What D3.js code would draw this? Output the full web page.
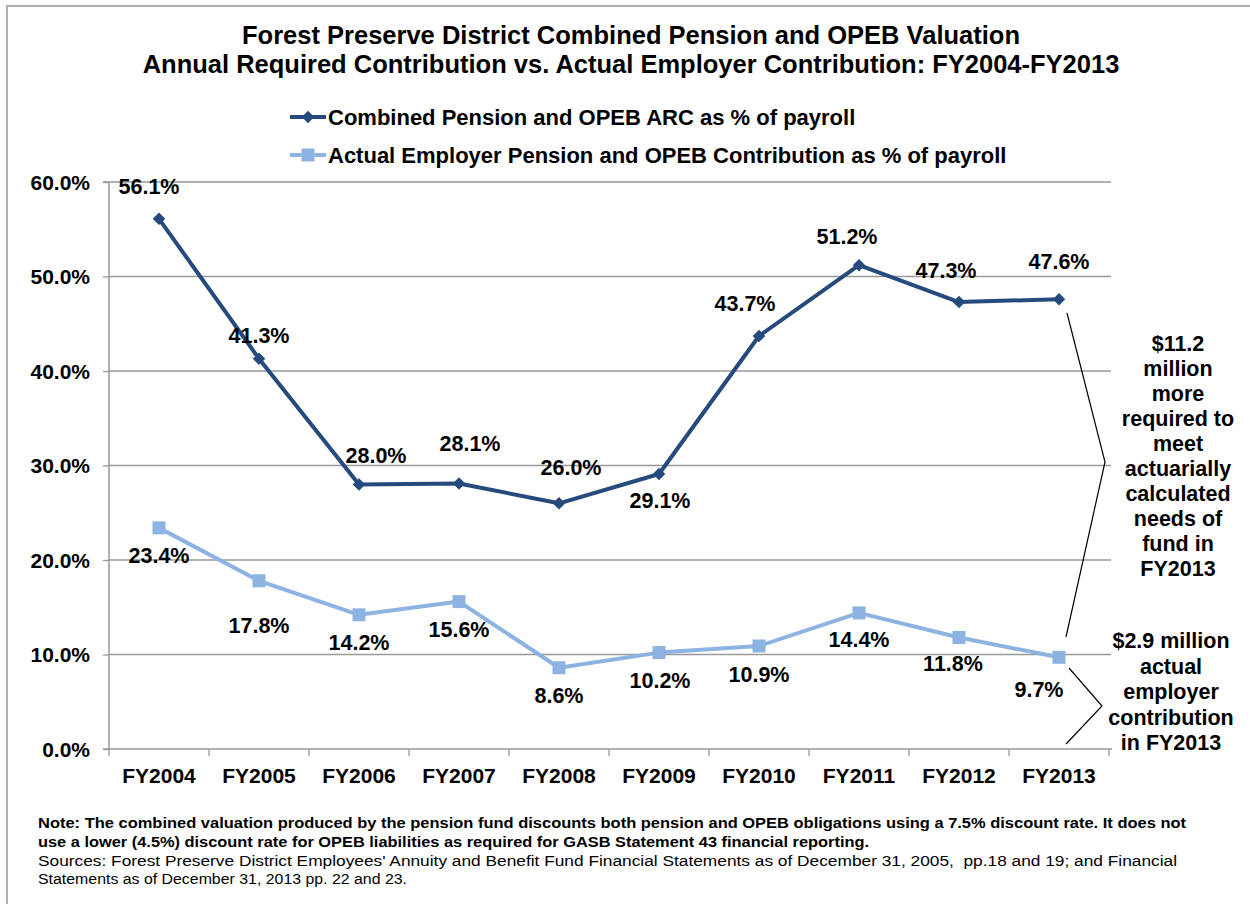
<!doctype html>
<html lang="en">
<head>
<meta charset="utf-8">
<title>Forest Preserve District Pension and OPEB</title>
<style>
  body { margin: 0; background: #fff; }
  svg text { font-family: "Liberation Sans", Arial, sans-serif; }
</style>
</head>
<body>
<script src="https://cdn.jsdelivr.net/npm/d3@7"></script>
<script>
// data
var years = ["FY2004","FY2005","FY2006","FY2007","FY2008","FY2009","FY2010","FY2011","FY2012","FY2013"];
var arcPct = [56.1, 41.3, 28.0, 28.1, 26.0, 29.1, 43.7, 51.2, 47.3, 47.6];
var actualPct = [23.4, 17.8, 14.2, 15.6, 8.6, 10.2, 10.9, 14.4, 11.8, 9.7];
var yTicks = [0, 10, 20, 30, 40, 50, 60];
var seriesNames = ["Combined Pension and OPEB ARC as % of payroll",
                   "Actual Employer Pension and OPEB Contribution as % of payroll"];

// label nudges (label placement only, px)
var arcLabelDx = [-10, 0, 17, 11, 12, 1, -14, -12, -13, 0];
var arcLabelDy = [-25, -16, -21, -32, -28, 34, -25, -21, -24, -30];
var actLabelDx = [0, 0, 0, 0, 0, 1, 0, 0, -6, -20];
var actLabelDy = [35, 52, 35, 35, 35, 35, 36, 34, 34, 40];

var darkBlue = "#254a7e", lightBlue = "#8db3e3";

var W = 1250, H = 904;
var margin = {top: 182, left: 109, right: 141, bottom: 155};
var width = W - margin.left - margin.right,
    height = H - margin.top - margin.bottom;

var svg = d3.select("body").append("svg")
  .attr("width", W).attr("height", H);

// outer frame (only top and left visible)
svg.append("path")
  .attr("d", "M7,904V6H1250")
  .attr("fill", "none").attr("stroke", "#b0b0b0").attr("stroke-width", 2);

var x = d3.scaleBand().domain(years).range([0, width]);
var y = d3.scaleLinear().domain([0, 60]).range([height, 0]);

var g = svg.append("g").attr("transform", "translate(" + margin.left + "," + margin.top + ")");

// gridlines
g.append("g").selectAll("line").data(yTicks.filter(function(d){ return d > 0; })).enter()
  .append("line")
  .attr("x1", 0).attr("x2", width + 2)
  .attr("y1", function(d){ return y(d); }).attr("y2", function(d){ return y(d); })
  .attr("stroke", "#999").attr("stroke-width", 1.3);

// y axis
var yAxis = g.append("g")
  .call(d3.axisLeft(y).tickValues(yTicks).tickSize(6).tickPadding(13)
    .tickFormat(function(d){ return d.toFixed(1) + "%"; }));
yAxis.select(".domain").attr("stroke", "#999").attr("stroke-width", 1.5).attr("d", "M-6," + height + "H0V0H-6");
yAxis.selectAll(".tick line").attr("stroke", "#999").attr("stroke-width", 1.3);
yAxis.selectAll("text").attr("font-size", 21).attr("font-weight", "bold").attr("fill", "#000")
  .attr("font-family", "Liberation Sans, Arial, sans-serif").attr("dy", "0.35em");

// x axis
var xAxis = g.append("g").attr("transform", "translate(0," + height + ")")
  .call(d3.axisBottom(x).tickSize(0).tickPadding(19));
xAxis.select(".domain").attr("stroke", "#999").attr("stroke-width", 1.5).attr("d", "M0,0H" + (width + 3));
xAxis.selectAll("text").attr("font-size", 21).attr("font-weight", "bold").attr("fill", "#000")
  .attr("font-family", "Liberation Sans, Arial, sans-serif");
g.append("g").selectAll("line").data(years).enter().append("line")
  .attr("x1", function(d){ return x(d); }).attr("x2", function(d){ return x(d); })
  .attr("y1", height).attr("y2", height + 7)
  .attr("stroke", "#999").attr("stroke-width", 1.3);
g.append("line").attr("x1", width).attr("x2", width).attr("y1", height).attr("y2", height + 7)
  .attr("stroke", "#999").attr("stroke-width", 1.3);

function cx(d, i){ return x(years[i]) + x.bandwidth() / 2; }

var line = d3.line().x(cx).y(function(d){ return y(d); });

// series lines
g.append("path").datum(actualPct).attr("d", line)
  .attr("fill", "none").attr("stroke", lightBlue).attr("stroke-width", 4).attr("stroke-linejoin", "round");
g.append("path").datum(arcPct).attr("d", line)
  .attr("fill", "none").attr("stroke", darkBlue).attr("stroke-width", 4).attr("stroke-linejoin", "round");

// markers
g.selectAll(".sq").data(actualPct).enter().append("rect")
  .attr("x", function(d, i){ return cx(d, i) - 6.5; })
  .attr("y", function(d){ return y(d) - 6.5; })
  .attr("width", 13).attr("height", 13).attr("fill", lightBlue);
g.selectAll(".dia").data(arcPct).enter().append("path")
  .attr("d", d3.symbol().type(d3.symbolDiamond2).size(100))
  .attr("transform", function(d, i){ return "translate(" + cx(d, i) + "," + y(d) + ")"; })
  .attr("fill", darkBlue);

// data labels
function labels(data, dxs, dys){
  g.append("g").selectAll("text").data(data).enter().append("text")
    .attr("x", function(d, i){ return cx(d, i) + dxs[i]; })
    .attr("y", function(d, i){ return y(d) + dys[i]; })
    .attr("text-anchor", "middle").attr("font-size", 21.5).attr("font-weight", "bold")
    .text(function(d){ return d.toFixed(1) + "%"; });
}
labels(arcPct, arcLabelDx, arcLabelDy);
labels(actualPct, actLabelDx, actLabelDy);

// title
var title = svg.append("text").attr("x", 631).attr("text-anchor", "middle")
  .attr("font-size", 25.5).attr("font-weight", "bold");
title.append("tspan").attr("x", 631).attr("y", 44).text("Forest Preserve District Combined Pension and OPEB Valuation");
title.append("tspan").attr("x", 631).attr("y", 73).text("Annual Required Contribution vs. Actual Employer Contribution: FY2004-FY2013");

// legend
var leg = svg.append("g").attr("transform", "translate(290,117)");
[darkBlue, lightBlue].forEach(function(c, i){
  var row = leg.append("g").attr("transform", "translate(0," + (i * 38) + ")");
  row.append("line").attr("x1", 0).attr("x2", 36).attr("stroke", c).attr("stroke-width", 4);
  if (i === 0) {
    row.append("path").attr("d", d3.symbol().type(d3.symbolDiamond2).size(100))
      .attr("transform", "translate(18,0)").attr("fill", c);
  } else {
    row.append("rect").attr("x", 11.5).attr("y", -6.5).attr("width", 13).attr("height", 13).attr("fill", c);
  }
  row.append("text").attr("x", 38).attr("y", 8).attr("font-size", 22).attr("font-weight", "bold")
    .text(seriesNames[i]);
});

// bracket annotations
var bracketA = [[1067, 313], [1105, 462], [1066, 637]];
var bracketB = [[1069, 668], [1102, 706], [1066, 744]];
[bracketA, bracketB].forEach(function(b){
  svg.append("path").attr("d", d3.line()(b)).attr("fill", "none")
    .attr("stroke", "#000").attr("stroke-width", 1.2);
});

var noteA = ["$11.2", "million", "more", "required to", "meet", "actuarially", "calculated", "needs of", "fund in", "FY2013"];
var noteB = ["$2.9 million", "actual", "employer", "contribution", "in FY2013"];
svg.append("g").selectAll("text").data(noteA).enter().append("text")
  .attr("x", 1178).attr("y", function(d, i){ return 351 + i * 25; })
  .attr("text-anchor", "middle").attr("font-size", 21.5).attr("font-weight", "bold").text(function(d){ return d; });
svg.append("g").selectAll("text").data(noteB).enter().append("text")
  .attr("x", 1171).attr("y", function(d, i){ return 648 + i * 25.5; })
  .attr("text-anchor", "middle").attr("font-size", 21.5).attr("font-weight", "bold").text(function(d){ return d; });

// footnote
var foot = [
  {t: "Note: The combined valuation produced by the pension fund discounts both pension and OPEB obligations using a 7.5% discount rate. It does not", b: true, y: 828, w: 1148},
  {t: "use a lower (4.5%) discount rate for OPEB liabilities as required for GASB Statement 43 financial reporting.", b: true, y: 847, w: 831},
  {t: "Sources: Forest Preserve District Employees' Annuity and Benefit Fund Financial Statements as of December 31, 2005,  pp.18 and 19; and Financial", b: false, y: 866, w: 1139},
  {t: "Statements as of December 31, 2013 pp. 22 and 23.", b: false, y: 884, w: 369}
];
svg.append("g").selectAll("text").data(foot).enter().append("text")
  .attr("x", 38).attr("y", function(d){ return d.y; })
  .attr("font-size", 14).attr("font-weight", function(d){ return d.b ? "bold" : "normal"; })
  .attr("textLength", function(d){ return d.w; }).attr("lengthAdjust", "spacingAndGlyphs")
  .style("white-space", "pre")
  .text(function(d){ return d.t; });
</script>
</body>
</html>
